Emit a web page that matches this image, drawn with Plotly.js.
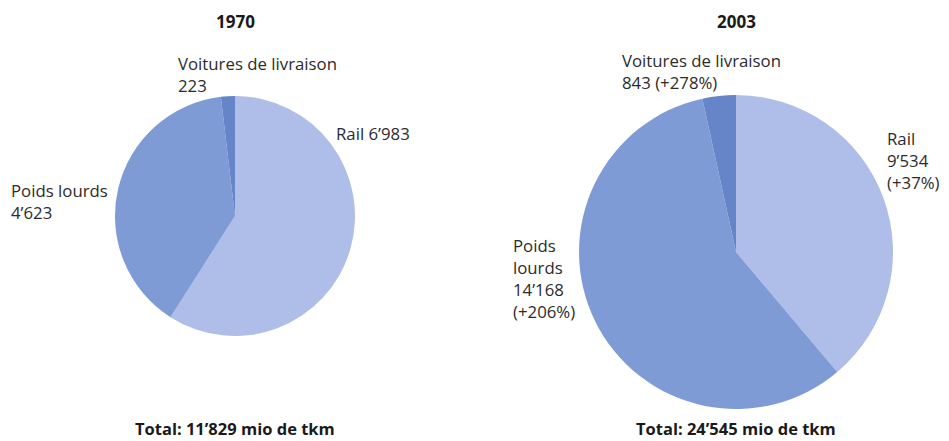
<!DOCTYPE html>
<html>
<head>
<meta charset="utf-8">
<script src="https://cdn.plot.ly/plotly-3.0.1.min.js"></script>
<style>
  html, body { margin: 0; padding: 0; background: #fff; }
  #chart { width: 949px; height: 441px; }
</style>
</head>
<body>
<div id="chart"></div>
<script>
// Güterverkehr / transport de marchandises, mio de tkm
const categories = ['Rail', 'Poids lourds', 'Voitures de livraison'];
const years = ['1970', '2003'];
const values1970 = [6983, 4623, 223];
const values2003 = [9534, 14168, 843];
const growth2003 = ['+37%', '+206%', '+278%'];
const totals = [11829, 24545];

const colors = ['#afbde9', '#7f9bd5', '#6585c8'];

const W = 949, H = 441;
const fx = x => x / W;
const fy = y => 1 - y / H;

const fmt = n => String(n).replace(/\B(?=(\d{3})+(?!\d))/g, '’');

const textFont = { family: 'Open Sans, Noto Sans, sans-serif', size: 16.8, color: '#2b2b2b' };
const boldFont = { family: 'Open Sans, Noto Sans, sans-serif', size: 17, color: '#1a1a1a' };
const totalFont = { family: 'Open Sans, Noto Sans, sans-serif', size: 16.5, color: '#1a1a1a' };

function pie(values, domain) {
    return {
        type: 'pie',
        labels: categories,
        values,
        sort: false,
        direction: 'clockwise',
        rotation: 0,
        textinfo: 'none',
        hoverinfo: 'label+value',
        marker: { colors, line: { color: '#ffffff', width: 0 } },
        domain
    };
}

const data = [
    pie(values1970, { x: [fx(115), fx(355)], y: [fy(336), fy(96)] }),
    pie(values2003, { x: [fx(579), fx(893)], y: [fy(409), fy(95)] })
];

function ann(text, x, y, font, xanchor, yanchor) {
    return {
        text, x: fx(x), y: fy(y), xref: 'paper', yref: 'paper',
        xanchor: xanchor || 'left', yanchor: yanchor || 'top',
        align: xanchor === 'center' ? 'center' : 'left',
        showarrow: false, font: font || textFont
    };
}

const annotations = [
    ann('<b>' + years[0] + '</b>', 235, 21, boldFont, 'center', 'middle'),
    ann('<b>' + years[1] + '</b>', 736, 21, boldFont, 'center', 'middle'),

    ann(categories[2] + '<br>' + fmt(values1970[2]), 176, 50),
    ann(categories[0] + ' ' + fmt(values1970[0]), 334, 120),
    ann(categories[1] + '<br>' + fmt(values1970[1]), 9, 177),

    ann(categories[2] + '<br>' + fmt(values2003[2]) + ' (' + growth2003[2] + ')', 620, 47),
    ann(categories[0] + '<br>' + fmt(values2003[0]) + '<br>(' + growth2003[0] + ')', 885, 125),
    ann('Poids<br>lourds<br>' + fmt(values2003[1]) + '<br>(' + growth2003[1] + ')', 511, 232),

    ann('<b>Total: ' + fmt(totals[0]) + ' mio de tkm</b>', 235, 428, totalFont, 'center', 'middle'),
    ann('<b>Total: ' + fmt(totals[1]) + ' mio de tkm</b>', 736, 428, totalFont, 'center', 'middle')
];

const layout = {
    width: W,
    height: H,
    margin: { l: 0, r: 0, t: 0, b: 0 },
    paper_bgcolor: '#ffffff',
    showlegend: false,
    annotations
};

Plotly.newPlot('chart', data, layout, { displayModeBar: false, staticPlot: true });
</script>
</body>
</html>
